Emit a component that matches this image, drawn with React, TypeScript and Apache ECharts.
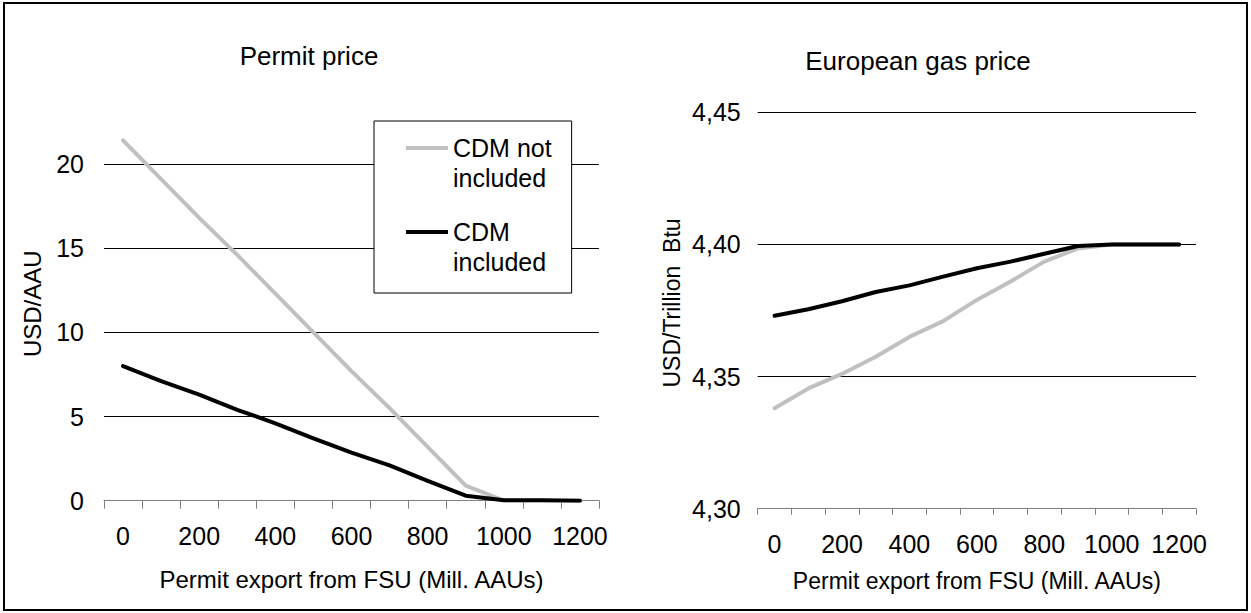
import React, { useEffect, useRef } from "react";
import * as echarts from "echarts";

const categories = ["0", "100", "200", "300", "400", "500", "600", "700", "800", "900", "1000", "1100", "1200"];
const seriesNames = ["CDM not included", "CDM included"];
const legendLabels = ["CDM not\nincluded", "CDM\nincluded"];
const permitNoCdm = [21.4, 19.1, 16.8, 14.6, 12.3, 10.0, 7.7, 5.5, 3.2, 0.9, 0, 0, 0];
const permitCdm = [8.0, 7.1, 6.3, 5.4, 4.6, 3.7, 2.85, 2.1, 1.18, 0.3, 0.03, 0.02, 0.0];
const gasNoCdm = [4.338, 4.3455, 4.351, 4.3575, 4.365, 4.371, 4.379, 4.386, 4.3935, 4.3985, 4.4, 4.4, 4.4];
const gasCdm = [4.373, 4.3755, 4.3785, 4.382, 4.3845, 4.3878, 4.391, 4.3935, 4.3965, 4.3994, 4.4, 4.4, 4.4];
const titles = ["Permit price", "European gas price"];
const xAxisName = "Permit export from FSU (Mill. AAUs)";
const yNames = ["USD/AAU", "USD/Trillion  Btu"];

const FONT = "'Liberation Sans', Arial, sans-serif";
const GREY = "#c0c0c0";
const BLACK = "#000000";
const LEGEND_ICON =
  "path://M0,0L0.01,0L0,0.01Z M0,13L42,13L42,17L0,17Z M42,60L41.99,60L42,59.99Z";

export default function App() {
  const ref = useRef<HTMLDivElement>(null);
  useEffect(() => {
    if (!ref.current) return;
    const chart = echarts.init(ref.current, null, { renderer: "svg" });
    const lineSeries = (name: string, data: number[], color: string, idx: number, z: number) => ({
      type: "line",
      name,
      data,
      xAxisIndex: idx,
      yAxisIndex: idx,
      symbol: "none",
      z,
      color,
      itemStyle: { color },
      lineStyle: { color, width: 4, cap: "round", join: "round" },
    });
    const xAxisBase = (idx: number, tickLen: number, nameGap: number, nameSize: number) => ({
      type: "category",
      gridIndex: idx,
      data: categories,
      boundaryGap: true,
      axisLine: { show: true, lineStyle: { color: "#808080", width: 1 } },
      axisTick: { show: true, interval: 0, length: tickLen, lineStyle: { color: "#808080", width: 1 } },
      axisLabel: { interval: 1, margin: 23, color: "#000", fontSize: 25, fontFamily: FONT },
      splitLine: { show: false },
      name: xAxisName,
      nameLocation: "middle",
      nameGap,
      nameTextStyle: { color: "#000", fontSize: nameSize, fontFamily: FONT },
    });
    chart.setOption({
      animation: false,
      backgroundColor: "#ffffff",
      title: [
        {
          text: titles[0],
          left: 304,
          top: 37.5,
          textAlign: "center",
          textStyle: { fontSize: 26, fontWeight: "normal", color: "#000", fontFamily: FONT },
        },
        {
          text: titles[1],
          left: 913,
          top: 42.5,
          textAlign: "center",
          textStyle: { fontSize: 26, fontWeight: "normal", color: "#000", fontFamily: FONT },
        },
      ],
      legend: {
        data: seriesNames,
        orient: "vertical",
        left: 374,
        top: 121,
        padding: [12, 20, 16, 32],
        itemGap: 24,
        itemWidth: 42,
        itemHeight: 60,
        icon: LEGEND_ICON,
        itemStyle: { borderWidth: 0 },
        backgroundColor: "#ffffff",
        borderColor: "#000000",
        borderWidth: 1,
        formatter: (n: string) => legendLabels[seriesNames.indexOf(n)],
        textStyle: { fontSize: 25, lineHeight: 30, color: "#000", fontFamily: FONT },
        selectedMode: false,
      },
      grid: [
        { left: 104, right: 652, top: 106.8, bottom: 112.3 },
        { left: 757.7, right: 55, top: 112.3, bottom: 104.3 },
      ],
      xAxis: [xAxisBase(0, 8, 67, 24), xAxisBase(1, 6, 61, 23)],
      yAxis: [
        {
          type: "value",
          gridIndex: 0,
          min: 0,
          max: 23.4,
          interval: 5,
          axisLine: { show: false },
          axisTick: { show: false },
          axisLabel: { showMaxLabel: false, margin: 20, color: "#000", fontSize: 25, fontFamily: FONT },
          splitLine: { show: true, showMaxLine: false, showMinLine: false, lineStyle: { color: "#000", width: 1 } },
          name: yNames[0],
          nameLocation: "middle",
          nameGap: 60,
          nameTextStyle: { color: "#000", fontSize: 24, fontFamily: FONT },
        },
        {
          type: "value",
          gridIndex: 1,
          min: 4.3,
          max: 4.45,
          interval: 0.05,
          axisLine: { show: false },
          axisTick: { show: false },
          axisLabel: {
            margin: 17,
            color: "#000",
            fontSize: 25,
            fontFamily: FONT,
            formatter: (v: number) => v.toFixed(2).replace(".", ","),
          },
          splitLine: { show: true, showMinLine: false, lineStyle: { color: "#000", width: 1 } },
          name: yNames[1],
          nameLocation: "middle",
          nameGap: 74,
          nameTextStyle: { color: "#000", fontSize: 23, fontFamily: FONT, padding: [0, 0, 0, 15] },
        },
      ],
      series: [
        lineSeries(seriesNames[0], permitNoCdm, GREY, 0, 3),
        lineSeries(seriesNames[1], permitCdm, BLACK, 0, 4),
        lineSeries(seriesNames[0], gasNoCdm, GREY, 1, 3),
        lineSeries(seriesNames[1], gasCdm, BLACK, 1, 4),
      ],
      graphic: [
        {
          type: "rect",
          shape: { x: 4, y: 3, width: 1243, height: 607 },
          style: { fill: "none", stroke: "#000", lineWidth: 2 },
          silent: true,
          z: 10,
        },
      ],
    });
    return () => chart.dispose();
  }, []);
  return (
    <div
      ref={ref}
      style={{ position: "absolute", left: 0, top: 0, width: 1251, height: 613 }}
    />
  );
}
